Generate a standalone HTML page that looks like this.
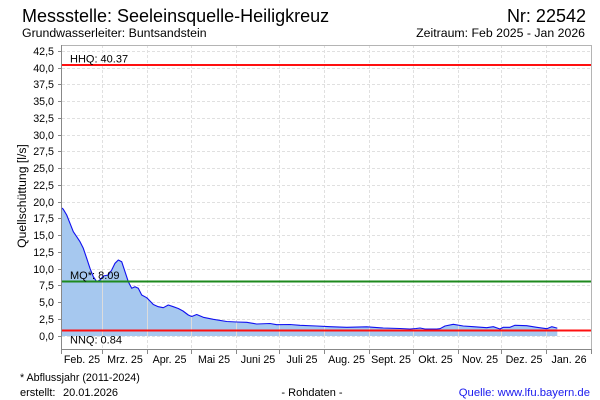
<!DOCTYPE html>
<html><head><meta charset="utf-8">
<style>
html,body{margin:0;padding:0;background:#fff;}
svg{display:block;}
text{font-family:"Liberation Sans",Arial,sans-serif;fill:#000;}
</style></head>
<body>
<svg width="600" height="400" viewBox="0 0 600 400" xmlns="http://www.w3.org/2000/svg">
<rect x="0" y="0" width="600" height="400" fill="#fff"/>
<!-- titles -->
<text x="22" y="22" font-size="18">Messstelle: Seeleinsquelle-Heiligkreuz</text>
<text x="586" y="22" font-size="18" text-anchor="end">Nr: 22542</text>
<text x="22" y="37" font-size="12.3">Grundwasserleiter: Buntsandstein</text>
<text x="585" y="37" font-size="12.3" text-anchor="end">Zeitraum: Feb 2025 - Jan 2026</text>

<!-- horizontal dashed gridlines -->
<g stroke="#e0e0e0" stroke-width="1" stroke-dasharray="3,2">
<line x1="62" y1="336.5" x2="592" y2="336.5"/>
<line x1="62" y1="319.5" x2="592" y2="319.5"/>
<line x1="62" y1="302.5" x2="592" y2="302.5"/>
<line x1="62" y1="285.5" x2="592" y2="285.5"/>
<line x1="62" y1="269.5" x2="592" y2="269.5"/>
<line x1="62" y1="252.5" x2="592" y2="252.5"/>
<line x1="62" y1="235.5" x2="592" y2="235.5"/>
<line x1="62" y1="218.5" x2="592" y2="218.5"/>
<line x1="62" y1="202.5" x2="592" y2="202.5"/>
<line x1="62" y1="185.5" x2="592" y2="185.5"/>
<line x1="62" y1="168.5" x2="592" y2="168.5"/>
<line x1="62" y1="151.5" x2="592" y2="151.5"/>
<line x1="62" y1="135.5" x2="592" y2="135.5"/>
<line x1="62" y1="118.5" x2="592" y2="118.5"/>
<line x1="62" y1="101.5" x2="592" y2="101.5"/>
<line x1="62" y1="84.5" x2="592" y2="84.5"/>
<line x1="62" y1="68.5" x2="592" y2="68.5"/>
<line x1="62" y1="51.5" x2="592" y2="51.5"/>
</g>
<!-- vertical dashed gridlines -->
<g stroke="#e0e0e0" stroke-width="1" stroke-dasharray="3,2">
<line x1="102.5" y1="45" x2="102.5" y2="349"/>
<line x1="147.5" y1="45" x2="147.5" y2="349"/>
<line x1="191.5" y1="45" x2="191.5" y2="349"/>
<line x1="236.5" y1="45" x2="236.5" y2="349"/>
<line x1="279.5" y1="45" x2="279.5" y2="349"/>
<line x1="324.5" y1="45" x2="324.5" y2="349"/>
<line x1="369.5" y1="45" x2="369.5" y2="349"/>
<line x1="413.5" y1="45" x2="413.5" y2="349"/>
<line x1="458.5" y1="45" x2="458.5" y2="349"/>
<line x1="501.5" y1="45" x2="501.5" y2="349"/>
<line x1="546.5" y1="45" x2="546.5" y2="349"/>
</g>

<defs>
<clipPath id="fc">
<polygon points="62,336 62,208 63.3,209.3 66.7,215 70,223.3 73.3,231.7 76.7,236.7 80,241.7 83.3,248.3 86.7,258.3 90,268.3 93.3,276.7 96.7,281.7 100,280 103.3,276 108.3,275 111.7,270 115,263.3 118.3,260 121.7,261.7 125,271.7 128.3,281.7 131.7,288.3 135,286.7 138.3,288.3 141.7,295 146.7,297.7 150,301 153.3,304.5 158.3,306.7 163.3,307.7 168.3,305 173.3,306.7 178.3,308.5 183,311 188.3,315 191.7,316.5 196.7,314.5 203.3,317.3 213.3,319.3 226.7,321.5 236.7,322 246.7,322.3 256.7,324 270,323.5 276.7,324.7 290,324.5 300,325.3 316.7,326 330,326.7 346.7,327.3 366.7,326.8 383.3,328 400,328.5 410,329 416,328.5 420,328 425,329 436.7,329 440,328.7 445,326 453.3,324.3 463.3,326 473.3,326.7 486.7,327.7 493.3,326.7 500,329 503.3,327.3 510,327.3 515,325.3 526.7,325.7 536.7,327.3 546.7,328.7 551.7,326.7 556.7,328 557.3,328 557.3,336"/>
</clipPath>
</defs>
<!-- fill -->
<polygon fill="#a6c8ef" points="62,336 62,208 63.3,209.3 66.7,215 70,223.3 73.3,231.7 76.7,236.7 80,241.7 83.3,248.3 86.7,258.3 90,268.3 93.3,276.7 96.7,281.7 100,280 103.3,276 108.3,275 111.7,270 115,263.3 118.3,260 121.7,261.7 125,271.7 128.3,281.7 131.7,288.3 135,286.7 138.3,288.3 141.7,295 146.7,297.7 150,301 153.3,304.5 158.3,306.7 163.3,307.7 168.3,305 173.3,306.7 178.3,308.5 183,311 188.3,315 191.7,316.5 196.7,314.5 203.3,317.3 213.3,319.3 226.7,321.5 236.7,322 246.7,322.3 256.7,324 270,323.5 276.7,324.7 290,324.5 300,325.3 316.7,326 330,326.7 346.7,327.3 366.7,326.8 383.3,328 400,328.5 410,329 416,328.5 420,328 425,329 436.7,329 440,328.7 445,326 453.3,324.3 463.3,326 473.3,326.7 486.7,327.7 493.3,326.7 500,329 503.3,327.3 510,327.3 515,325.3 526.7,325.7 536.7,327.3 546.7,328.7 551.7,326.7 556.7,328 557.3,328 557.3,336"/>
<!-- vertical lines over fill -->
<g stroke="#dcdcdc" stroke-width="1" clip-path="url(#fc)">
<line x1="102.5" y1="45" x2="102.5" y2="349"/>
<line x1="147.5" y1="45" x2="147.5" y2="349"/>
<line x1="191.5" y1="45" x2="191.5" y2="349"/>
<line x1="236.5" y1="45" x2="236.5" y2="349"/>
<line x1="279.5" y1="45" x2="279.5" y2="349"/>
<line x1="324.5" y1="45" x2="324.5" y2="349"/>
<line x1="369.5" y1="45" x2="369.5" y2="349"/>
<line x1="413.5" y1="45" x2="413.5" y2="349"/>
<line x1="458.5" y1="45" x2="458.5" y2="349"/>
<line x1="501.5" y1="45" x2="501.5" y2="349"/>
<line x1="546.5" y1="45" x2="546.5" y2="349"/>
</g>
<!-- data line -->
<polyline fill="none" stroke="#1010f0" stroke-width="1.1" stroke-linejoin="round" points="62,208 63.3,209.3 66.7,215 70,223.3 73.3,231.7 76.7,236.7 80,241.7 83.3,248.3 86.7,258.3 90,268.3 93.3,276.7 96.7,281.7 100,280 103.3,276 108.3,275 111.7,270 115,263.3 118.3,260 121.7,261.7 125,271.7 128.3,281.7 131.7,288.3 135,286.7 138.3,288.3 141.7,295 146.7,297.7 150,301 153.3,304.5 158.3,306.7 163.3,307.7 168.3,305 173.3,306.7 178.3,308.5 183,311 188.3,315 191.7,316.5 196.7,314.5 203.3,317.3 213.3,319.3 226.7,321.5 236.7,322 246.7,322.3 256.7,324 270,323.5 276.7,324.7 290,324.5 300,325.3 316.7,326 330,326.7 346.7,327.3 366.7,326.8 383.3,328 400,328.5 410,329 416,328.5 420,328 425,329 436.7,329 440,328.7 445,326 453.3,324.3 463.3,326 473.3,326.7 486.7,327.7 493.3,326.7 500,329 503.3,327.3 510,327.3 515,325.3 526.7,325.7 536.7,327.3 546.7,328.7 551.7,326.7 556.7,328 557.3,328"/>

<!-- reference lines -->
<line x1="62" y1="65" x2="592" y2="65" stroke="#ff1010" stroke-width="2"/>
<line x1="62" y1="281.5" x2="592" y2="281.5" stroke="#1e8a1e" stroke-width="2"/>
<line x1="62" y1="330.5" x2="592" y2="330.5" stroke="#ff1010" stroke-width="2"/>
<text x="70" y="62.5" font-size="11">HHQ: 40.37</text>
<text x="70" y="279" font-size="11">MQ*: 8.09</text>
<text x="70" y="343.5" font-size="11">NNQ: 0.84</text>

<!-- frame -->
<line x1="62" y1="45.5" x2="592" y2="45.5" stroke="#b4b4b4" stroke-width="1"/>
<line x1="591.5" y1="45" x2="591.5" y2="349" stroke="#b4b4b4" stroke-width="1"/>
<line x1="61.5" y1="45" x2="61.5" y2="354" stroke="#888" stroke-width="1"/>
<line x1="61" y1="349.5" x2="592" y2="349.5" stroke="#888" stroke-width="1"/>

<!-- y ticks -->
<g stroke="#888" stroke-width="1">
<line x1="58" y1="336.5" x2="62" y2="336.5"/>
<line x1="58" y1="319.5" x2="62" y2="319.5"/>
<line x1="58" y1="302.5" x2="62" y2="302.5"/>
<line x1="58" y1="285.5" x2="62" y2="285.5"/>
<line x1="58" y1="269.5" x2="62" y2="269.5"/>
<line x1="58" y1="252.5" x2="62" y2="252.5"/>
<line x1="58" y1="235.5" x2="62" y2="235.5"/>
<line x1="58" y1="218.5" x2="62" y2="218.5"/>
<line x1="58" y1="202.5" x2="62" y2="202.5"/>
<line x1="58" y1="185.5" x2="62" y2="185.5"/>
<line x1="58" y1="168.5" x2="62" y2="168.5"/>
<line x1="58" y1="151.5" x2="62" y2="151.5"/>
<line x1="58" y1="135.5" x2="62" y2="135.5"/>
<line x1="58" y1="118.5" x2="62" y2="118.5"/>
<line x1="58" y1="101.5" x2="62" y2="101.5"/>
<line x1="58" y1="84.5" x2="62" y2="84.5"/>
<line x1="58" y1="68.5" x2="62" y2="68.5"/>
<line x1="58" y1="51.5" x2="62" y2="51.5"/>
</g>
<g font-size="10.7" text-anchor="end">
<text x="54" y="340">0,0</text>
<text x="54" y="323">2,5</text>
<text x="54" y="306">5,0</text>
<text x="54" y="289">7,5</text>
<text x="54" y="273">10,0</text>
<text x="54" y="256">12,5</text>
<text x="54" y="239">15,0</text>
<text x="54" y="222">17,5</text>
<text x="54" y="206">20,0</text>
<text x="54" y="189">22,5</text>
<text x="54" y="172">25,0</text>
<text x="54" y="155">27,5</text>
<text x="54" y="139">30,0</text>
<text x="54" y="122">32,5</text>
<text x="54" y="105">35,0</text>
<text x="54" y="88">37,5</text>
<text x="54" y="72">40,0</text>
<text x="54" y="55">42,5</text>
</g>
<text transform="translate(26,196) rotate(-90)" font-size="12.2" text-anchor="middle">Quellschüttung [l/s]</text>

<!-- x ticks -->
<g stroke="#888" stroke-width="1">
<line x1="102.5" y1="349" x2="102.5" y2="354"/>
<line x1="147.5" y1="349" x2="147.5" y2="354"/>
<line x1="191.5" y1="349" x2="191.5" y2="354"/>
<line x1="236.5" y1="349" x2="236.5" y2="354"/>
<line x1="279.5" y1="349" x2="279.5" y2="354"/>
<line x1="324.5" y1="349" x2="324.5" y2="354"/>
<line x1="369.5" y1="349" x2="369.5" y2="354"/>
<line x1="413.5" y1="349" x2="413.5" y2="354"/>
<line x1="458.5" y1="349" x2="458.5" y2="354"/>
<line x1="501.5" y1="349" x2="501.5" y2="354"/>
<line x1="546.5" y1="349" x2="546.5" y2="354"/>
<line x1="591.5" y1="349" x2="591.5" y2="354"/>
</g>
<g font-size="10.7" text-anchor="middle">
<text x="82" y="363">Feb. 25</text>
<text x="125" y="363">Mrz. 25</text>
<text x="169.5" y="363">Apr. 25</text>
<text x="214" y="363">Mai 25</text>
<text x="258" y="363">Juni 25</text>
<text x="302" y="363">Juli 25</text>
<text x="346.5" y="363">Aug. 25</text>
<text x="391" y="363">Sept. 25</text>
<text x="435.5" y="363">Okt. 25</text>
<text x="480" y="363">Nov. 25</text>
<text x="524" y="363">Dez. 25</text>
<text x="569" y="363">Jan. 26</text>
</g>

<!-- footer -->
<text x="20" y="381" font-size="10.7">* Abflussjahr (2011-2024)</text>
<text x="20" y="396" font-size="11">erstellt:</text>
<text x="63" y="396" font-size="11">20.01.2026</text>
<text x="312" y="396" font-size="11" text-anchor="middle">- Rohdaten -</text>
<text x="590" y="396" font-size="11.3" text-anchor="end" style="fill:#1a1aee">Quelle: www.lfu.bayern.de</text>
</svg>
</body></html>
